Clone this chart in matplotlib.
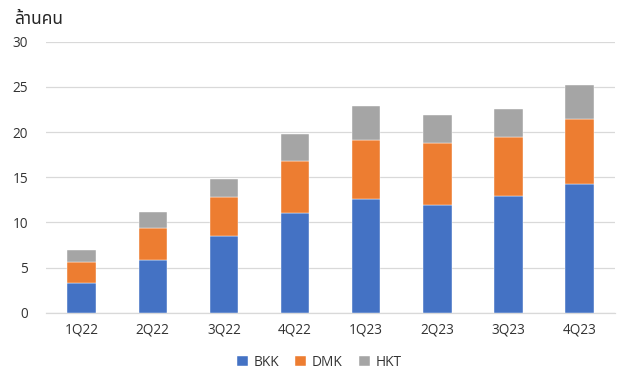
import matplotlib.pyplot as plt
import numpy as np

quarters = ["1Q22", "2Q22", "3Q22", "4Q22", "1Q23", "2Q23", "3Q23", "4Q23"]
bkk = [3.3, 5.9, 8.5, 11.0, 12.6, 11.9, 12.9, 14.3]
dmk = [2.35, 3.5, 4.3, 5.85, 6.5, 6.85, 6.5, 7.1]
hkt = [1.3, 1.8, 2.0, 2.9, 3.8, 3.15, 3.2, 3.8]
series_names = ["BKK", "DMK", "HKT"]
colors = ["#4472c4", "#ed7d31", "#a5a5a5"]

plt.rcParams['font.family'] = ['Open Sans', 'DejaVu Sans']

fig = plt.figure(figsize=(6.22, 3.72), dpi=100)
ax = fig.add_axes([0.074, 0.159, 0.915, 0.729])

x = np.arange(len(quarters))
bottom = np.zeros(len(quarters))
for name, vals, c in zip(series_names, [bkk, dmk, hkt], colors):
    ax.bar(x, vals, width=0.4, bottom=bottom, color=c, label=name,
           edgecolor='white', linewidth=0.3, zorder=3)
    bottom += np.array(vals)

ax.set_ylim(0, 30)
ax.set_xlim(-0.5, len(quarters) - 0.5)
ax.set_yticks(range(0, 31, 5))
ax.set_xticks(x)
ax.set_xticklabels(quarters)
ax.yaxis.grid(True, color='#d9d9d9', linewidth=0.9, zorder=0)
ax.set_axisbelow(True)
for s in ['top', 'right', 'left']:
    ax.spines[s].set_visible(False)
ax.spines['bottom'].set_color('#d9d9d9')
ax.spines['bottom'].set_linewidth(0.9)
ax.tick_params(axis='both', length=0, labelsize=9.8, labelcolor='#333333', pad=7)
ax.tick_params(axis='y', pad=13)

fig.text(0.022, 0.95, "ล้านคน", fontsize=12.5, fontweight='bold', color='#262626',
         family=['Noto Sans Thai', 'Tahoma', 'Leelawadee UI', 'Garuda', 'Loma',
                 'Norasi', 'Waree', 'DejaVu Sans'], va='center', ha='left')

ax.legend(loc='upper center', bbox_to_anchor=(0.48, -0.11), ncol=3, frameon=False,
          fontsize=9.8, handlelength=0.8, handleheight=0.8, handletextpad=0.4,
          columnspacing=1.2, labelcolor='#333333')

fig.savefig("out.png", dpi=100)
